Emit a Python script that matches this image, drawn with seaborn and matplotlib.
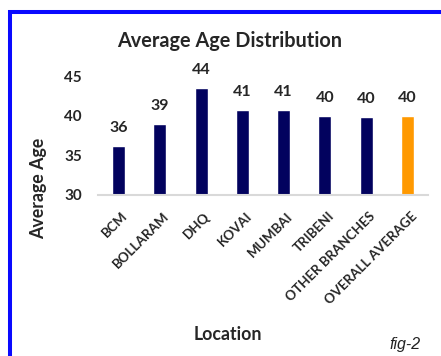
import matplotlib
matplotlib.use("Agg")
import matplotlib.pyplot as plt
import matplotlib.transforms as mtransforms
from matplotlib.lines import Line2D
import seaborn as sns

locations = ["BCM", "BOLLARAM", "DHQ", "KOVAI", "MUMBAI", "TRIBENI",
             "OTHER BRANCHES", "OVERALL AVERAGE"]
avg_age = [36.2, 39.0, 43.6, 40.7, 40.8, 40.0, 39.9, 40.0]
bar_colors = ["#02025E"] * 7 + ["#FF9900"]
y_ticks = [30, 35, 40, 45]

sns.set_theme(style="white")
plt.rcParams["font.family"] = ["Lato", "DejaVu Sans"]

fig = plt.figure(figsize=(4.41, 3.56), dpi=100)
ax = fig.add_axes([98 / 441, 1 - 194.5 / 356, 330 / 441, 117.8 / 356])

sns.barplot(x=locations, y=avg_age, hue=locations, palette=bar_colors,
            width=0.31, legend=False, ax=ax, saturation=1)

ax.set_ylim(30, 45)
ax.set_xlim(-0.5, 7.5)
ax.set_yticks(y_ticks)
ax.set_yticklabels([str(t) for t in y_ticks], fontsize=11, fontweight="bold")
ax.tick_params(axis="y", length=0, pad=11.5)
ax.tick_params(axis="x", length=0, pad=11)
ax.set_xticks(range(len(locations)))
ax.set_xticklabels(locations, rotation=45, ha="right", va="top",
                   rotation_mode="anchor", fontsize=9.6, fontweight="bold")
shift = mtransforms.ScaledTranslation(3 / 100, 0, fig.dpi_scale_trans)
for lab in ax.get_xticklabels():
    lab.set_transform(lab.get_transform() + shift)

for s in ["top", "right", "left"]:
    ax.spines[s].set_visible(False)
ax.spines["bottom"].set_color("#D9D9D9")
ax.spines["bottom"].set_linewidth(1.5)

for c in ax.containers:
    ax.bar_label(c, fmt="%.0f", padding=8, fontsize=11.5, fontweight="bold")

ax.set_ylabel("Average Age", fontsize=12.8, fontweight="bold")
ax.yaxis.set_label_coords(-0.155, 0.055)
ax.set_xlabel("Location", fontsize=12.8, fontweight="bold")
ax.xaxis.set_label_coords(0.394, -1.12)

fig.text(229.5 / 441, 1 - 41 / 356, "Average Age Distribution", ha="center",
         va="center", fontsize=14.3, fontweight="bold")
fig.text(405 / 441, 1 - 345 / 356, "fig-2", ha="center", va="center",
         fontsize=11.5, style="italic", family=["Liberation Sans", "DejaVu Sans"],
         color="#222222")

fig.add_artist(Line2D([10 / 441, 10 / 441], [0, 1 - 10 / 356],
                      transform=fig.transFigure, color="#0A0AFF", linewidth=2.9,
                      solid_capstyle="butt"))
fig.add_artist(Line2D([8 / 441, 1], [1 - 12 / 356, 1 - 12 / 356],
                      transform=fig.transFigure, color="#0A0AFF", linewidth=2.9,
                      solid_capstyle="butt"))

fig.savefig("out.png", dpi=100)
